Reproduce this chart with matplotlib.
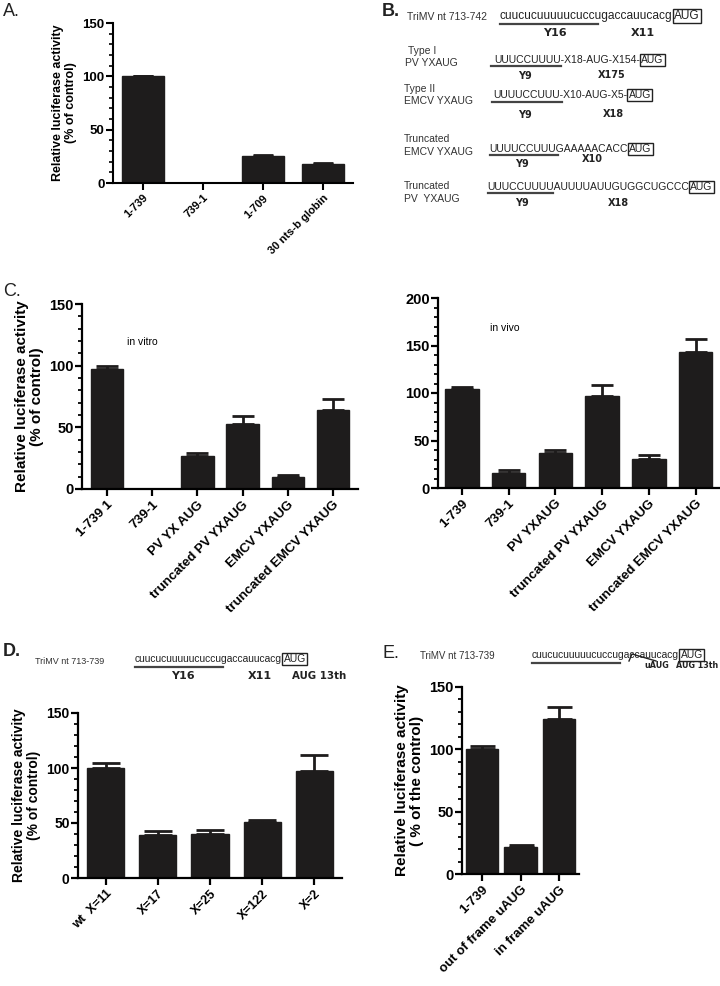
import matplotlib
matplotlib.use("Agg")
import matplotlib.pyplot as plt
from matplotlib.ticker import MultipleLocator
from matplotlib.lines import Line2D

plt.rcParams['font.family'] = ['Liberation Sans', 'DejaVu Sans']

W, H = 720, 986

# ---------------- data ----------------
a_labels = ["1-739", "739-1", "1-709", "30 nts-b globin"]
a_values = [100, 0, 25, 17.5]
a_errors = [0.5, 0, 0.8, 1.5]

cl_labels = ["1-739 1", "739-1", "PV YX AUG", "truncated PV YXAUG", "EMCV YXAUG", "truncated EMCV YXAUG"]
cl_values = [97, 0, 27, 53, 10, 64]
cl_errors = [3, 0, 2, 6, 1, 9]

cr_labels = ["1-739", "739-1", "PV YXAUG", "truncated PV YXAUG", "EMCV YXAUG", "truncated EMCV YXAUG"]
cr_values = [104, 16, 37, 97, 31, 143]
cr_errors = [2, 3, 3, 11, 4, 14]

d_labels = ["wt  X=11", "X=17", "X=25", "X=122", "X=2"]
d_values = [100, 39, 40, 51, 97]
d_errors = [5, 4, 4, 2, 15]

e_labels = ["1-739", "out of frame uAUG", "in frame uAUG"]
e_values = [100, 22, 124]
e_errors = [3, 1, 10]

BAR = '#1e1c1c'

fig = plt.figure(figsize=(W / 100, H / 100), dpi=100)


def px_axes(xl, xr, ytop, ybot):
    return fig.add_axes([xl / W, 1 - ybot / H, (xr - xl) / W, (ybot - ytop) / H])


def bar_panel(ax, labels, values, errors, ymax, major, width, xlo, xhi,
              tick_fs, lab_fs, ylabel, ylab_fs, capsize, lw=1.6):
    x = list(range(len(values)))
    ax.bar(x, values, width=width, color=BAR, edgecolor=BAR, zorder=2)
    ax.errorbar(x, values, yerr=[[0] * len(errors), errors], fmt='none',
                ecolor=BAR, elinewidth=2.0, capsize=capsize, capthick=2.0, zorder=1)
    ax.set_ylim(0, ymax)
    ax.set_xlim(xlo, xhi)
    ax.yaxis.set_major_locator(MultipleLocator(major))
    ax.yaxis.set_minor_locator(MultipleLocator(10))
    for s in ['top', 'right']:
        ax.spines[s].set_visible(False)
    for s in ['left', 'bottom']:
        ax.spines[s].set_linewidth(lw)
    ax.tick_params(axis='y', which='major', length=5, width=lw, labelsize=tick_fs, pad=1)
    ax.tick_params(axis='y', which='minor', length=3, width=lw * 0.8)
    ax.tick_params(axis='x', which='major', length=5, width=lw, pad=2)
    ax.set_xticks(x)
    ax.set_xticklabels(labels, rotation=45, ha='right', rotation_mode='anchor',
                       fontsize=lab_fs, fontweight='bold')
    for t in ax.get_yticklabels():
        t.set_fontweight('bold')
    ax.set_ylabel(ylabel, fontsize=ylab_fs, fontweight='bold', linespacing=1.1, labelpad=4)
    ax.set_facecolor('none')


# Panel A
axA = px_axes(113, 353, 23, 183)
bar_panel(axA, a_labels, a_values, a_errors, 150, 50, 0.7, -0.5, 3.5,
          9.5, 8, "Relative luciferase activity\n(% of control)", 9, 7, lw=1.5)

# Panel C left
axCL = px_axes(82, 358, 304, 489)
bar_panel(axCL, cl_labels, cl_values, cl_errors, 150, 50, 0.72, -0.55, 5.55,
          10.5, 9.5, "Relative luciferase activity\n(% of control)", 11, 8)
axCL.text(0.44, 119, "in vitro", fontsize=7.5, va='center', transform=axCL.transData)

# Panel C right
axCR = px_axes(438, 719, 298, 488)
bar_panel(axCR, cr_labels, cr_values, cr_errors, 200, 50, 0.72, -0.51, 5.5,
          10.5, 9.5, "", 11, 8)
axCR.text(0.6, 168, "in vivo", fontsize=7.5, va='center', transform=axCR.transData)

# Panel D
axD = px_axes(78, 342, 713, 878)
bar_panel(axD, d_labels, d_values, d_errors, 150, 50, 0.71, -0.53, 4.53,
          10, 9, "Relative luciferase activity\n(% of control)", 10, 10)

# Panel E
axE = px_axes(462, 579, 687, 874)
bar_panel(axE, e_labels, e_values, e_errors, 150, 50, 0.85, -0.52, 2.52,
          10.5, 9.5, "Relative luciferase activity\n( % of the control)", 11, 9)

# ---------------- text helpers ----------------
def ftext(x, y, s, fs, **kw):
    return fig.text(x / W, 1 - y / H, s, fontsize=fs, va='center', **kw)


def hline(x0, x1, y, lw=1.6, color='#444444'):
    fig.add_artist(Line2D([x0 / W, x1 / W], [1 - y / H, 1 - y / H],
                          transform=fig.transFigure, color=color, lw=lw))


def pline(xs, ys, lw=1.0, color='#222222'):
    fig.add_artist(Line2D([x / W for x in xs], [1 - y / H for y in ys],
                          transform=fig.transFigure, color=color, lw=lw))


fig.canvas.draw()
renderer = fig.canvas.get_renderer()


def seq_box(x, y, s, fs):
    t = ftext(x, y, s, fs, color='#222222')
    bb = t.get_window_extent(renderer=renderer)
    xr = bb.x1  # pixels from left
    ftext(xr + 1.5, y, "AUG", fs, color='#222222',
          bbox=dict(boxstyle='square,pad=0.12', fc='none', ec='#222222', lw=1.0))


BOLD = dict(family=['DejaVu Sans'], fontweight='bold', ha='center', color='#222222')

# panel letters
ftext(3, 12, "A.", 13, color='#222222')
ftext(382, 12, "B.", 13, fontweight='bold', color='#222222')
ftext(3, 292, "C.", 13, color='#222222')
ftext(3, 651, "D.", 13, fontweight='bold', color='#222222')
ftext(382, 653, "E.", 13, color='#222222')

# Panel B
ftext(407, 17, "TriMV nt 713-742", 7.5, color='#333333')
seq_box(500, 16, "cuucucuuuuucuccugaccauucacg", 8.6)
hline(500, 598, 24)
ftext(555, 33, "Y16", 8, **BOLD)
ftext(643, 33, "X11", 8, **BOLD)

ftext(408, 51, "Type I", 7.5, color='#333333')
ftext(405, 63, "PV YXAUG", 7.5, color='#333333')
seq_box(494, 60, "UUUCCUUUU-X18-AUG-X154-", 7.5)
hline(491, 561, 66)
ftext(525, 76, "Y9", 7, **BOLD)
ftext(612, 75, "X175", 7, **BOLD)

ftext(404, 89, "Type II", 7.5, color='#333333')
ftext(404, 101, "EMCV YXAUG", 7.5, color='#333333')
seq_box(493, 95, "UUUUCCUUU-X10-AUG-X5-", 7.5)
hline(492, 562, 102)
ftext(525, 115, "Y9", 7, **BOLD)
ftext(613, 114, "X18", 7, **BOLD)

ftext(404, 139, "Truncated", 7.5, color='#333333')
ftext(404, 152, "EMCV YXAUG", 7.5, color='#333333')
seq_box(489, 149, "UUUUCCUUUGAAAAACACC", 7.5)
hline(490, 558, 155)
ftext(522, 164, "Y9", 7, **BOLD)
ftext(592, 159, "X10", 7, **BOLD)

ftext(404, 186, "Truncated", 7.5, color='#333333')
ftext(404, 199, "PV  YXAUG", 7.5, color='#333333')
seq_box(487, 187, "UUUCCUUUUAUUUUAUUGUGGCUGCCC", 7.5)
hline(488, 553, 193)
ftext(522, 203, "Y9", 7, **BOLD)
ftext(618, 203, "X18", 7, **BOLD)

# Panel D header
ftext(35, 661, "TriMV nt 713-739", 6.5, color='#333333')
seq_box(135, 659, "cuucucuuuuucuccugaccauucacg", 7.4)
hline(135, 223, 667)
ftext(183, 676, "Y16", 8, **BOLD)
ftext(260, 676, "X11", 8, **BOLD)
ftext(319, 676, "AUG 13th", 7.4, **BOLD)

# Panel E header
ftext(420, 656, "TriMV nt 713-739", 7, color='#333333')
seq_box(532, 655, "cuucucuuuuucuccugaccauucacg", 7.4)
hline(532, 620, 663)
pline([629, 632, 656], [661, 654, 661])
ftext(657, 665, "uAUG", 5.8, **BOLD)
ftext(697, 665, "AUG 13th", 5.8, **BOLD)

fig.savefig("out.png", dpi=100)
